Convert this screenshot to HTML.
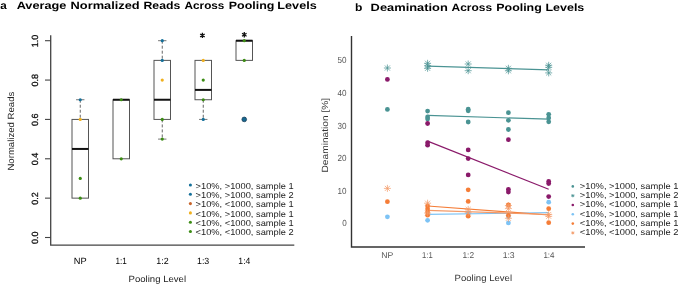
<!DOCTYPE html>
<html><head><meta charset="utf-8"><style>
html,body{margin:0;padding:0;background:#fff;width:685px;height:284px;overflow:hidden}
svg{display:block;will-change:transform}
text{font-family:"Liberation Sans",sans-serif;text-rendering:geometricPrecision}
</style></head><body>
<svg width="685" height="284" viewBox="0 0 685 284" font-family='"Liberation Sans", sans-serif'><path d="M50.7 35.3V245.15H294.3" fill="none" stroke="#444" stroke-width="1.3"/>
<line x1="45" y1="237.50" x2="50.7" y2="237.50" stroke="#444" stroke-width="1.1"/>
<text x="38.20" y="237.80" font-size="9" fill="#111" text-anchor="middle" transform="rotate(-90 38.20 237.80)" stroke="#111" stroke-width="0.3">0.0</text>
<line x1="45" y1="198.14" x2="50.7" y2="198.14" stroke="#444" stroke-width="1.1"/>
<text x="38.20" y="198.44" font-size="9" fill="#111" text-anchor="middle" transform="rotate(-90 38.20 198.44)" stroke="#111" stroke-width="0.3">0.2</text>
<line x1="45" y1="158.78" x2="50.7" y2="158.78" stroke="#444" stroke-width="1.1"/>
<text x="38.20" y="159.08" font-size="9" fill="#111" text-anchor="middle" transform="rotate(-90 38.20 159.08)" stroke="#111" stroke-width="0.3">0.4</text>
<line x1="45" y1="119.42" x2="50.7" y2="119.42" stroke="#444" stroke-width="1.1"/>
<text x="38.20" y="119.72" font-size="9" fill="#111" text-anchor="middle" transform="rotate(-90 38.20 119.72)" stroke="#111" stroke-width="0.3">0.6</text>
<line x1="45" y1="80.06" x2="50.7" y2="80.06" stroke="#444" stroke-width="1.1"/>
<text x="38.20" y="80.36" font-size="9" fill="#111" text-anchor="middle" transform="rotate(-90 38.20 80.36)" stroke="#111" stroke-width="0.3">0.8</text>
<line x1="45" y1="40.70" x2="50.7" y2="40.70" stroke="#444" stroke-width="1.1"/>
<text x="38.20" y="41.00" font-size="9" fill="#111" text-anchor="middle" transform="rotate(-90 38.20 41.00)" stroke="#111" stroke-width="0.3">1.0</text>
<line x1="80.25" y1="99.74" x2="80.25" y2="119.42" stroke="#666" stroke-width="1" stroke-dasharray="3 2"/>
<line x1="76.05" y1="99.74" x2="84.45" y2="99.74" stroke="#777" stroke-width="1"/>
<rect x="72.0" y="119.42" width="16.5" height="78.72" fill="none" stroke="#555" stroke-width="1"/>
<line x1="72.0" y1="148.94" x2="88.5" y2="148.94" stroke="#111" stroke-width="2"/>
<rect x="113.0" y="99.74" width="16.5" height="59.04" fill="none" stroke="#555" stroke-width="1"/>
<line x1="113.0" y1="99.74" x2="129.5" y2="99.74" stroke="#111" stroke-width="2"/>
<line x1="162.25" y1="40.70" x2="162.25" y2="60.38" stroke="#666" stroke-width="1" stroke-dasharray="3 2"/>
<line x1="158.05" y1="40.70" x2="166.45" y2="40.70" stroke="#777" stroke-width="1"/>
<line x1="162.25" y1="119.42" x2="162.25" y2="139.10" stroke="#666" stroke-width="1" stroke-dasharray="3 2"/>
<line x1="158.05" y1="139.10" x2="166.45" y2="139.10" stroke="#777" stroke-width="1"/>
<rect x="154.0" y="60.38" width="16.5" height="59.04" fill="none" stroke="#555" stroke-width="1"/>
<line x1="154.0" y1="99.74" x2="170.5" y2="99.74" stroke="#111" stroke-width="2"/>
<line x1="203.25" y1="99.74" x2="203.25" y2="119.42" stroke="#666" stroke-width="1" stroke-dasharray="3 2"/>
<line x1="199.05" y1="119.42" x2="207.45" y2="119.42" stroke="#777" stroke-width="1"/>
<rect x="195.0" y="60.38" width="16.5" height="39.36" fill="none" stroke="#555" stroke-width="1"/>
<line x1="195.0" y1="89.90" x2="211.5" y2="89.90" stroke="#111" stroke-width="2"/>
<rect x="236.0" y="40.70" width="16.5" height="19.68" fill="none" stroke="#555" stroke-width="1"/>
<line x1="236.0" y1="40.70" x2="252.5" y2="40.70" stroke="#111" stroke-width="2"/>
<circle cx="244.25" cy="119.42" r="2.35" fill="#176890" stroke="#163650" stroke-width="0.7"/>
<circle cx="80.25" cy="99.74" r="1.6" fill="#15709a"/>
<circle cx="80.25" cy="119.42" r="1.6" fill="#f0b01e"/>
<circle cx="80.25" cy="178.46" r="1.6" fill="#3c8c14"/>
<circle cx="80.25" cy="198.14" r="1.6" fill="#3c8c14"/>
<circle cx="121.25" cy="99.74" r="1.6" fill="#3c8c14"/>
<circle cx="121.25" cy="158.78" r="1.6" fill="#3c8c14"/>
<circle cx="162.25" cy="40.70" r="1.6" fill="#15709a"/>
<circle cx="162.25" cy="60.38" r="1.6" fill="#15709a"/>
<circle cx="162.25" cy="80.06" r="1.6" fill="#f0b01e"/>
<circle cx="162.25" cy="119.42" r="1.6" fill="#3c8c14"/>
<circle cx="162.25" cy="139.10" r="1.6" fill="#3c8c14"/>
<circle cx="203.25" cy="60.38" r="1.6" fill="#f0b01e"/>
<circle cx="203.25" cy="80.06" r="1.6" fill="#3c8c14"/>
<circle cx="203.25" cy="99.74" r="1.6" fill="#3c8c14"/>
<circle cx="203.25" cy="119.42" r="1.6" fill="#15709a"/>
<circle cx="244.25" cy="40.70" r="1.6" fill="#3c8c14"/>
<circle cx="244.25" cy="60.38" r="1.6" fill="#3c8c14"/>
<path d="M202.40 32.70L202.40 38.10M200.14 33.93L204.66 36.87M200.14 36.87L204.66 33.93" stroke="#111" stroke-width="1.3" fill="none"/>
<path d="M244.30 32.00L244.30 37.40M242.04 33.23L246.56 36.17M242.04 36.17L246.56 33.23" stroke="#111" stroke-width="1.3" fill="none"/>
<circle cx="190.4" cy="185.00" r="1.55" fill="#15709a"/>
<circle cx="190.4" cy="194.30" r="1.55" fill="#15709a"/>
<circle cx="190.4" cy="203.60" r="1.55" fill="#c8642a"/>
<circle cx="190.4" cy="212.90" r="1.55" fill="#f0b01e"/>
<circle cx="190.4" cy="222.20" r="1.55" fill="#3c8c14"/>
<circle cx="190.4" cy="231.50" r="1.55" fill="#3c8c14"/>
<path d="M351.5 35.9V247H585" fill="none" stroke="#333" stroke-width="1.4"/>
<line x1="427.6" y1="66.2" x2="548.7" y2="69.8" stroke="#4a9393" stroke-width="1.2"/>
<line x1="427.6" y1="115.4" x2="548.7" y2="119.2" stroke="#4a9393" stroke-width="1.2"/>
<line x1="427.6" y1="141.1" x2="548.7" y2="189.2" stroke="#8a1a6a" stroke-width="1.2"/>
<line x1="427.6" y1="214.4" x2="548.7" y2="212.7" stroke="#7dc3f5" stroke-width="1.2"/>
<line x1="427.6" y1="206" x2="548.7" y2="215" stroke="#f57d37" stroke-width="1.2"/>
<line x1="427.6" y1="210.3" x2="548.7" y2="214.5" stroke="#f49a68" stroke-width="1.2"/>
<path d="M383.90 68.00H390.90M387.40 64.50V71.50M384.88 65.48L389.92 70.52M384.88 70.52L389.92 65.48" stroke="#4a9393" stroke-width="0.72" fill="none"/>
<circle cx="387.4" cy="79.40" r="2.4" fill="#8a1a6a"/>
<circle cx="387.4" cy="109.40" r="2.4" fill="#4a9393"/>
<path d="M383.90 188.40H390.90M387.40 184.90V191.90M384.88 185.88L389.92 190.92M384.88 190.92L389.92 185.88" stroke="#f49a68" stroke-width="0.72" fill="none"/>
<circle cx="387.4" cy="201.70" r="2.4" fill="#f57d37"/>
<circle cx="387.4" cy="216.80" r="2.4" fill="#7dc3f5"/>
<path d="M424.10 63.30H431.10M427.60 59.80V66.80M425.08 60.78L430.12 65.82M425.08 65.82L430.12 60.78" stroke="#4a9393" stroke-width="0.72" fill="none"/>
<path d="M424.10 65.80H431.10M427.60 62.30V69.30M425.08 63.28L430.12 68.32M425.08 68.32L430.12 63.28" stroke="#4a9393" stroke-width="0.72" fill="none"/>
<path d="M424.10 68.30H431.10M427.60 64.80V71.80M425.08 65.78L430.12 70.82M425.08 70.82L430.12 65.78" stroke="#4a9393" stroke-width="0.72" fill="none"/>
<path d="M464.70 64.00H471.70M468.20 60.50V67.50M465.68 61.48L470.72 66.52M465.68 66.52L470.72 61.48" stroke="#4a9393" stroke-width="0.72" fill="none"/>
<path d="M464.70 70.70H471.70M468.20 67.20V74.20M465.68 68.18L470.72 73.22M465.68 73.22L470.72 68.18" stroke="#4a9393" stroke-width="0.72" fill="none"/>
<path d="M504.90 68.30H511.90M508.40 64.80V71.80M505.88 65.78L510.92 70.82M505.88 70.82L510.92 65.78" stroke="#4a9393" stroke-width="0.72" fill="none"/>
<path d="M504.90 70.80H511.90M508.40 67.30V74.30M505.88 68.28L510.92 73.32M505.88 73.32L510.92 68.28" stroke="#4a9393" stroke-width="0.72" fill="none"/>
<path d="M545.20 65.30H552.20M548.70 61.80V68.80M546.18 62.78L551.22 67.82M546.18 67.82L551.22 62.78" stroke="#4a9393" stroke-width="0.72" fill="none"/>
<path d="M545.20 67.30H552.20M548.70 63.80V70.80M546.18 64.78L551.22 69.82M546.18 69.82L551.22 64.78" stroke="#4a9393" stroke-width="0.72" fill="none"/>
<path d="M545.20 72.90H552.20M548.70 69.40V76.40M546.18 70.38L551.22 75.42M546.18 75.42L551.22 70.38" stroke="#4a9393" stroke-width="0.72" fill="none"/>
<circle cx="427.6" cy="111.10" r="2.4" fill="#4a9393"/>
<circle cx="427.6" cy="116.90" r="2.4" fill="#4a9393"/>
<circle cx="427.6" cy="119.00" r="2.4" fill="#4a9393"/>
<circle cx="468.2" cy="109.20" r="2.4" fill="#4a9393"/>
<circle cx="468.2" cy="110.80" r="2.4" fill="#4a9393"/>
<circle cx="468.2" cy="122.00" r="2.4" fill="#4a9393"/>
<circle cx="508.4" cy="112.70" r="2.4" fill="#4a9393"/>
<circle cx="508.4" cy="120.30" r="2.4" fill="#4a9393"/>
<circle cx="508.4" cy="129.50" r="2.4" fill="#4a9393"/>
<circle cx="548.7" cy="114.30" r="2.4" fill="#4a9393"/>
<circle cx="548.7" cy="118.00" r="2.4" fill="#4a9393"/>
<circle cx="548.7" cy="121.80" r="2.4" fill="#4a9393"/>
<circle cx="427.6" cy="123.50" r="2.4" fill="#8a1a6a"/>
<circle cx="427.6" cy="142.70" r="2.4" fill="#8a1a6a"/>
<circle cx="427.6" cy="145.20" r="2.4" fill="#8a1a6a"/>
<circle cx="468.2" cy="149.90" r="2.4" fill="#8a1a6a"/>
<circle cx="468.2" cy="158.60" r="2.4" fill="#8a1a6a"/>
<circle cx="468.2" cy="174.90" r="2.4" fill="#8a1a6a"/>
<circle cx="508.4" cy="139.70" r="2.4" fill="#8a1a6a"/>
<circle cx="508.4" cy="189.30" r="2.4" fill="#8a1a6a"/>
<circle cx="508.4" cy="192.00" r="2.4" fill="#8a1a6a"/>
<circle cx="548.7" cy="181.40" r="2.4" fill="#8a1a6a"/>
<circle cx="548.7" cy="183.60" r="2.4" fill="#8a1a6a"/>
<circle cx="548.7" cy="196.60" r="2.4" fill="#8a1a6a"/>
<circle cx="427.6" cy="220.30" r="2.4" fill="#7dc3f5"/>
<circle cx="468.2" cy="213.30" r="2.4" fill="#7dc3f5"/>
<circle cx="508.4" cy="216.50" r="2.4" fill="#7dc3f5"/>
<circle cx="508.4" cy="222.90" r="2.4" fill="#7dc3f5"/>
<circle cx="548.7" cy="202.20" r="2.4" fill="#7dc3f5"/>
<circle cx="427.6" cy="206.00" r="2.4" fill="#f57d37"/>
<circle cx="427.6" cy="209.00" r="2.4" fill="#f57d37"/>
<circle cx="427.6" cy="212.00" r="2.4" fill="#f57d37"/>
<circle cx="427.6" cy="215.20" r="2.4" fill="#f57d37"/>
<circle cx="468.2" cy="189.80" r="2.4" fill="#f57d37"/>
<circle cx="468.2" cy="201.40" r="2.4" fill="#f57d37"/>
<circle cx="468.2" cy="216.20" r="2.4" fill="#f57d37"/>
<circle cx="508.4" cy="205.00" r="2.4" fill="#f57d37"/>
<circle cx="508.4" cy="215.50" r="2.4" fill="#f57d37"/>
<circle cx="548.7" cy="208.70" r="2.4" fill="#f57d37"/>
<circle cx="548.7" cy="222.70" r="2.4" fill="#f57d37"/>
<path d="M424.10 203.20H431.10M427.60 199.70V206.70M425.08 200.68L430.12 205.72M425.08 205.72L430.12 200.68" stroke="#f49a68" stroke-width="0.72" fill="none"/>
<path d="M424.10 213.00H431.10M427.60 209.50V216.50M425.08 210.48L430.12 215.52M425.08 215.52L430.12 210.48" stroke="#f49a68" stroke-width="0.72" fill="none"/>
<path d="M464.70 209.40H471.70M468.20 205.90V212.90M465.68 206.88L470.72 211.92M465.68 211.92L470.72 206.88" stroke="#f49a68" stroke-width="0.72" fill="none"/>
<path d="M464.70 212.80H471.70M468.20 209.30V216.30M465.68 210.28L470.72 215.32M465.68 215.32L470.72 210.28" stroke="#f49a68" stroke-width="0.72" fill="none"/>
<path d="M504.90 205.50H511.90M508.40 202.00V209.00M505.88 202.98L510.92 208.02M505.88 208.02L510.92 202.98" stroke="#f49a68" stroke-width="0.72" fill="none"/>
<path d="M504.90 208.60H511.90M508.40 205.10V212.10M505.88 206.08L510.92 211.12M505.88 211.12L510.92 206.08" stroke="#f49a68" stroke-width="0.72" fill="none"/>
<path d="M504.90 218.30H511.90M508.40 214.80V221.80M505.88 215.78L510.92 220.82M505.88 220.82L510.92 215.78" stroke="#f49a68" stroke-width="0.72" fill="none"/>
<path d="M545.20 214.50H552.20M548.70 211.00V218.00M546.18 211.98L551.22 217.02M546.18 217.02L551.22 211.98" stroke="#f49a68" stroke-width="0.72" fill="none"/>
<path d="M545.20 216.30H552.20M548.70 212.80V219.80M546.18 213.78L551.22 218.82M546.18 218.82L551.22 213.78" stroke="#f49a68" stroke-width="0.72" fill="none"/>
<circle cx="572.8" cy="186.40" r="1.3" fill="#4a9393"/>
<path d="M571.20 195.70H574.40M572.80 194.10V197.30M571.65 194.55L573.95 196.85M571.65 196.85L573.95 194.55" stroke="#4a9393" stroke-width="0.8" fill="none"/>
<circle cx="572.8" cy="205.00" r="1.3" fill="#8a1a6a"/>
<circle cx="572.8" cy="214.30" r="1.3" fill="#7dc3f5"/>
<circle cx="572.8" cy="223.60" r="1.3" fill="#f57d37"/>
<path d="M571.20 232.90H574.40M572.80 231.30V234.50M571.65 231.75L573.95 234.05M571.65 234.05L573.95 231.75" stroke="#f49a68" stroke-width="0.8" fill="none"/>
<text x="0.18" y="8.80" font-size="10.6" fill="#000" font-weight="bold" textLength="6.52" lengthAdjust="spacingAndGlyphs">a</text>
<text x="16.67" y="8.80" font-size="10.6" fill="#000" font-weight="bold" textLength="49.70" lengthAdjust="spacingAndGlyphs">Average</text>
<text x="70.55" y="8.80" font-size="10.6" fill="#000" font-weight="bold" textLength="69.12" lengthAdjust="spacingAndGlyphs">Normalized</text>
<text x="143.48" y="8.80" font-size="10.6" fill="#000" font-weight="bold" textLength="36.79" lengthAdjust="spacingAndGlyphs">Reads</text>
<text x="184.61" y="8.80" font-size="10.6" fill="#000" font-weight="bold" textLength="39.78" lengthAdjust="spacingAndGlyphs">Across</text>
<text x="228.77" y="8.80" font-size="10.6" fill="#000" font-weight="bold" textLength="45.62" lengthAdjust="spacingAndGlyphs">Pooling</text>
<text x="277.36" y="8.80" font-size="10.6" fill="#000" font-weight="bold" textLength="39.36" lengthAdjust="spacingAndGlyphs">Levels</text>
<text x="14.20" y="170.56" font-size="9" fill="#222" textLength="78.87" lengthAdjust="spacingAndGlyphs" transform="rotate(-90 14.20 170.56)">Normalized Reads</text>
<text x="128.56" y="281.50" font-size="9" fill="#222" textLength="57.49" lengthAdjust="spacingAndGlyphs">Pooling Level</text>
<text x="195.55" y="188.70" font-size="8.6" fill="#222" textLength="98.20" lengthAdjust="spacingAndGlyphs">&gt;10%, &gt;1000, sample 1</text>
<text x="195.55" y="198.00" font-size="8.6" fill="#222" textLength="98.20" lengthAdjust="spacingAndGlyphs">&gt;10%, &gt;1000, sample 2</text>
<text x="195.55" y="207.30" font-size="8.6" fill="#222" textLength="98.20" lengthAdjust="spacingAndGlyphs">&gt;10%, &lt;1000, sample 1</text>
<text x="195.56" y="216.60" font-size="8.6" fill="#222" textLength="98.20" lengthAdjust="spacingAndGlyphs">&lt;10%, &gt;1000, sample 1</text>
<text x="195.56" y="225.90" font-size="8.6" fill="#222" textLength="98.20" lengthAdjust="spacingAndGlyphs">&lt;10%, &lt;1000, sample 1</text>
<text x="195.56" y="235.20" font-size="8.6" fill="#222" textLength="98.20" lengthAdjust="spacingAndGlyphs">&lt;10%, &lt;1000, sample 2</text>
<text x="354.97" y="10.90" font-size="10.6" fill="#000" font-weight="bold" textLength="7.38" lengthAdjust="spacingAndGlyphs">b</text>
<text x="370.64" y="10.90" font-size="10.6" fill="#000" font-weight="bold" textLength="77.21" lengthAdjust="spacingAndGlyphs">Deamination</text>
<text x="451.60" y="10.90" font-size="10.6" fill="#000" font-weight="bold" textLength="40.50" lengthAdjust="spacingAndGlyphs">Across</text>
<text x="496.27" y="10.90" font-size="10.6" fill="#000" font-weight="bold" textLength="45.52" lengthAdjust="spacingAndGlyphs">Pooling</text>
<text x="545.47" y="10.90" font-size="10.6" fill="#000" font-weight="bold" textLength="38.84" lengthAdjust="spacingAndGlyphs">Levels</text>
<text x="327.80" y="172.49" font-size="9" fill="#333" textLength="74.69" lengthAdjust="spacingAndGlyphs" transform="rotate(-90 327.80 172.49)">Deamination [%]</text>
<text x="454.56" y="281.30" font-size="9" fill="#333" textLength="57.49" lengthAdjust="spacingAndGlyphs">Pooling Level</text>
<text x="579.75" y="188.70" font-size="8.6" fill="#222" textLength="98.71" lengthAdjust="spacingAndGlyphs">&gt;10%, &gt;1000, sample 1</text>
<text x="579.75" y="198.00" font-size="8.6" fill="#222" textLength="98.71" lengthAdjust="spacingAndGlyphs">&gt;10%, &gt;1000, sample 2</text>
<text x="579.75" y="207.30" font-size="8.6" fill="#222" textLength="98.71" lengthAdjust="spacingAndGlyphs">&gt;10%, &lt;1000, sample 1</text>
<text x="579.76" y="216.60" font-size="8.6" fill="#222" textLength="98.71" lengthAdjust="spacingAndGlyphs">&lt;10%, &gt;1000, sample 1</text>
<text x="579.76" y="225.90" font-size="8.6" fill="#222" textLength="98.71" lengthAdjust="spacingAndGlyphs">&lt;10%, &lt;1000, sample 1</text>
<text x="579.76" y="235.20" font-size="8.6" fill="#222" textLength="98.71" lengthAdjust="spacingAndGlyphs">&lt;10%, &lt;1000, sample 2</text>
<text x="73.77" y="264.20" font-size="9" fill="#000" textLength="12.86" lengthAdjust="spacingAndGlyphs">NP</text>
<text x="115.39" y="264.20" font-size="9" fill="#000" textLength="11.32" lengthAdjust="spacingAndGlyphs">1:1</text>
<text x="156.33" y="264.20" font-size="9" fill="#000" textLength="12.38" lengthAdjust="spacingAndGlyphs">1:2</text>
<text x="197.03" y="264.20" font-size="9" fill="#000" textLength="12.27" lengthAdjust="spacingAndGlyphs">1:3</text>
<text x="238.35" y="264.20" font-size="9" fill="#000" textLength="11.98" lengthAdjust="spacingAndGlyphs">1:4</text>
<text x="381.23" y="257.70" font-size="8.5" fill="#555" textLength="11.97" lengthAdjust="spacingAndGlyphs">NP</text>
<text x="422.03" y="257.70" font-size="8.5" fill="#555" textLength="10.63" lengthAdjust="spacingAndGlyphs">1:1</text>
<text x="462.47" y="257.70" font-size="8.5" fill="#555" textLength="11.64" lengthAdjust="spacingAndGlyphs">1:2</text>
<text x="502.65" y="257.70" font-size="8.5" fill="#555" textLength="12.03" lengthAdjust="spacingAndGlyphs">1:3</text>
<text x="543.40" y="257.70" font-size="8.5" fill="#555" textLength="11.09" lengthAdjust="spacingAndGlyphs">1:4</text>
<text x="337.61" y="63.40" font-size="8.8" fill="#555" textLength="9.02" lengthAdjust="spacingAndGlyphs">50</text>
<text x="337.61" y="96.00" font-size="8.8" fill="#555" textLength="9.02" lengthAdjust="spacingAndGlyphs">40</text>
<text x="337.61" y="128.60" font-size="8.8" fill="#555" textLength="9.02" lengthAdjust="spacingAndGlyphs">30</text>
<text x="337.61" y="161.20" font-size="8.8" fill="#555" textLength="9.02" lengthAdjust="spacingAndGlyphs">20</text>
<text x="337.61" y="193.80" font-size="8.8" fill="#555" textLength="9.02" lengthAdjust="spacingAndGlyphs">10</text>
<text x="342.21" y="226.40" font-size="8.8" fill="#555" textLength="4.52" lengthAdjust="spacingAndGlyphs">0</text></svg>
</body></html>
